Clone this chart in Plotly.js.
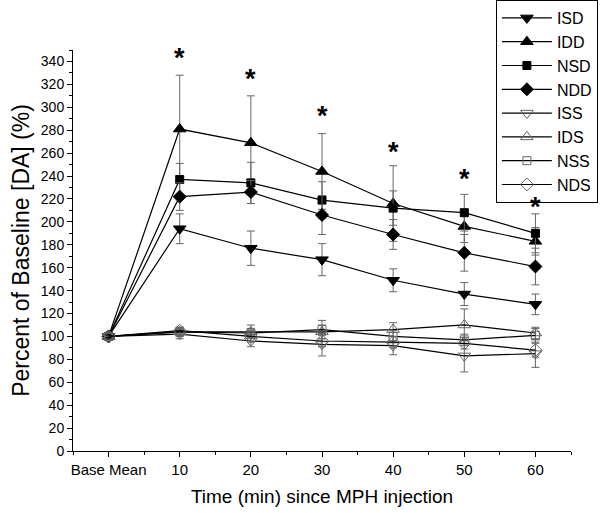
<!DOCTYPE html>
<html>
<head>
<meta charset="utf-8">
<script src="https://cdn.plot.ly/plotly-3.0.1.min.js"></script>
<style>html,body{margin:0;padding:0;background:#fff;}#chart{width:600px;height:513px;}</style>
</head>
<body>
<div id="chart"></div>
<script>
var times = [0, 10, 20, 30, 40, 50, 60];
var tickLabels = ['Base Mean', '10', '20', '30', '40', '50', '60'];

var seriesNames = ['ISD', 'IDD', 'NSD', 'NDD', 'ISS', 'IDS', 'NSS', 'NDS'];

var ISD = [100, 194, 177, 167, 149, 137, 128];
var IDD = [100, 281, 269, 244, 216, 196, 183];
var NSD = [100, 237, 234, 219, 212, 208, 190];
var NDD = [100, 222, 226, 206, 189, 173, 161];
var ISS = [100, 102, 96, 93, 92, 83, 85];
var IDS = [100, 104, 104, 104, 106, 110, 103];
var NSS = [100, 104, 103, 106, 100, 97, 101];
var NDS = [100, 105, 100, 96, 95, 94, 88];

var ISD_err = [0, 13, 15, 14, 10, 10, 9];
var IDD_err = [0, 47, 41, 33, 33, 14, 12];
var NSD_err = [0, 14, 18, 16, 15, 16, 17];
var NDD_err = [0, 12, 10, 17, 13, 16, 16];
var ISS_err = [0, 4, 5, 10, 8, 14, 12];
var IDS_err = [0, 4, 6, 6, 6, 14, 5];
var NSS_err = [0, 3, 4, 8, 5, 5, 6];
var NDS_err = [0, 3, 5, 5, 5, 5, 6];

var sigTimes = [10, 20, 30, 40, 50, 60];
var sigY = [346, 327, 295, 264, 240, 216];

var values = [ISD, IDD, NSD, NDD, ISS, IDS, NSS, NDS];
var errors = [ISD_err, IDD_err, NSD_err, NDD_err, ISS_err, IDS_err, NSS_err, NDS_err];
var symbols = ['triangle-down', 'triangle-up', 'square', 'diamond',
               'triangle-down-open', 'triangle-up-open', 'square-open', 'diamond-open'];
var sizes = [11, 11, 8, 10, 11, 11, 8, 10];
var markerColors = ['#000', '#000', '#000', '#000', '#666', '#666', '#666', '#666'];

var traces = seriesNames.map(function (name, i) {
  return {
    x: times,
    y: values[i],
    name: name,
    type: 'scatter',
    mode: 'lines+markers',
    line: {color: '#000', width: 1.2},
    marker: {symbol: symbols[i], size: sizes[i], color: markerColors[i],
             line: {color: markerColors[i], width: 1}},
    error_y: {type: 'data', array: errors[i], visible: true,
              color: '#666', thickness: 1, width: 4}
  };
});

var annotations = sigTimes.map(function (t, i) {
  return {x: t, y: sigY[i], xref: 'x', yref: 'y', text: '<b>*</b>', showarrow: false,
          font: {family: 'Liberation Sans, Arial, sans-serif', size: 27, color: '#000'},
          yshift: -3};
});

var layout = {
  width: 600, height: 513,
  margin: {l: 73, r: 29, t: 50, b: 62, autoexpand: false},
  paper_bgcolor: '#fff', plot_bgcolor: '#fff',
  font: {family: 'Liberation Sans, Arial, sans-serif', color: '#000', size: 14},
  showlegend: true,
  legend: {x: 1.054, y: 1.1247, xanchor: 'right', yanchor: 'top',
           bgcolor: '#fff', bordercolor: '#000', borderwidth: 1,
           itemwidth: 50, font: {size: 16}},
  xaxis: {
    range: [-5, 65], tickmode: 'array', tickvals: times, ticktext: tickLabels,
    ticks: 'outside', ticklen: 5, tickcolor: '#000', showgrid: false, zeroline: false,
    showline: true, linecolor: '#000', linewidth: 1,
    minor: {tickmode: 'linear', tick0: 0, dtick: 5, ticks: 'outside', ticklen: 3, tickcolor: '#000', showgrid: false},
    tickfont: {size: 15},
    title: {text: 'Time (min) since MPH injection', font: {size: 19}, standoff: 12}
  },
  yaxis: {
    range: [0, 350], tickmode: 'linear', tick0: 0, dtick: 20,
    ticks: 'outside', ticklen: 5, tickcolor: '#000', showgrid: false, zeroline: false,
    showline: true, linecolor: '#000', linewidth: 1,
    minor: {tickmode: 'linear', tick0: 0, dtick: 10, ticks: 'outside', ticklen: 3, tickcolor: '#000', showgrid: false},
    tickfont: {size: 14},
    title: {text: 'Percent of Baseline [DA] (%)', font: {size: 23}, standoff: 4}
  },
  annotations: annotations
};

Plotly.newPlot('chart', traces, layout, {displayModeBar: false, staticPlot: true});
</script>
</body>
</html>
